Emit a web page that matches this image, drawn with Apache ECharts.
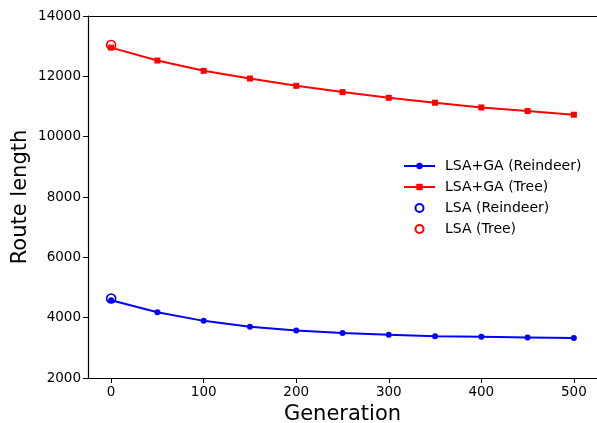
<!DOCTYPE html>
<html>
<head>
<meta charset="utf-8">
<script src="https://cdn.jsdelivr.net/npm/echarts@6/dist/echarts.min.js"></script>
<style>html,body{margin:0;padding:0;background:#fff;}#c{width:597px;height:423px;}</style>
</head>
<body>
<div id="c"></div>
<script>
const generations = [0, 50, 100, 150, 200, 250, 300, 350, 400, 450, 500];
const gaReindeer = [4579, 4182, 3894, 3697, 3576, 3488, 3432, 3388, 3366, 3344, 3322];
const gaTree = [12952, 12523, 12182, 11927, 11686, 11477, 11289, 11124, 10969, 10849, 10727];
const lsaReindeer = [[0, 4634]];
const lsaTree = [[0, 13041]];
const xTicks = [0, 100, 200, 300, 400, 500];
const seriesNames = ['LSA+GA (Reindeer)', 'LSA+GA (Tree)', 'LSA (Reindeer)', 'LSA (Tree)'];

const font = 'DejaVu Sans';
const chart = echarts.init(document.getElementById('c'), null, {renderer: 'canvas'});
chart.setOption({
  animation: false,
  backgroundColor: '#fff',
  textStyle: {fontFamily: font, color: '#000'},
  grid: {left: 88, right: 0, top: 16, bottom: 45, show: false, containLabel: false, outerBoundsMode: 'none'},
  legend: {
    orient: 'vertical', left: 398, top: 154,
    itemWidth: 31, itemHeight: 8, itemGap: 7,
    textStyle: {fontFamily: font, fontSize: 14, color: '#000', padding: [0, 0, 0, 5]},
    data: seriesNames
  },
  xAxis: [{
    type: 'value', min: -25, max: 525,
    name: 'Generation', nameLocation: 'middle', nameGap: 24,
    nameTextStyle: {fontFamily: font, fontSize: 21, color: '#000'},
    axisLine: {onZero: false, lineStyle: {color: '#000', width: 1.2}},
    axisTick: {show: true, length: 5, customValues: xTicks, lineStyle: {color: '#000', width: 1}},
    axisLabel: {customValues: xTicks, margin: 7, fontFamily: font, fontSize: 13.5, color: '#000'},
    splitLine: {show: false}
  }, {
    type: 'value', position: 'top', min: -25, max: 525,
    axisLine: {show: true, onZero: false, lineStyle: {color: '#000', width: 1.2}},
    axisTick: {show: false}, axisLabel: {show: false}, splitLine: {show: false}
  }],
  yAxis: {
    type: 'value', min: 2000, max: 14000, interval: 2000,
    name: 'Route length', nameLocation: 'middle', nameGap: 57, nameRotate: 90, nameMoveOverlap: false,
    nameTextStyle: {fontFamily: font, fontSize: 21, color: '#000'},
    axisLine: {show: true, onZero: false, lineStyle: {color: '#000', width: 1.2}},
    axisTick: {show: true, length: 5, lineStyle: {color: '#000', width: 1}},
    axisLabel: {margin: 7, fontFamily: font, fontSize: 13.5, color: '#000', formatter: v => String(v)},
    splitLine: {show: false}
  },
  series: [
    {
      name: seriesNames[0], type: 'line',
      data: generations.map((g, i) => [g, gaReindeer[i]]),
      smooth: false,
      symbol: 'circle', symbolSize: 6, showAllSymbol: true,
      lineStyle: {color: '#0000ff', width: 2},
      itemStyle: {color: '#0000ff'}
    },
    {
      name: seriesNames[1], type: 'line',
      data: generations.map((g, i) => [g, gaTree[i]]),
      smooth: false,
      symbol: 'rect', symbolSize: 6, showAllSymbol: true,
      lineStyle: {color: '#ff0000', width: 2},
      itemStyle: {color: '#ff0000'}
    },
    {
      name: seriesNames[2], type: 'scatter', data: lsaReindeer,
      symbol: 'circle', symbolSize: 9, z: 5,
      itemStyle: {color: 'rgba(255,255,255,0)', borderColor: '#0000ff', borderWidth: 1.6, opacity: 1}
    },
    {
      name: seriesNames[3], type: 'scatter', data: lsaTree,
      symbol: 'circle', symbolSize: 9, z: 5,
      itemStyle: {color: 'rgba(255,255,255,0)', borderColor: '#ff0000', borderWidth: 1.6, opacity: 1}
    }
  ]
});
</script>
</body>
</html>
